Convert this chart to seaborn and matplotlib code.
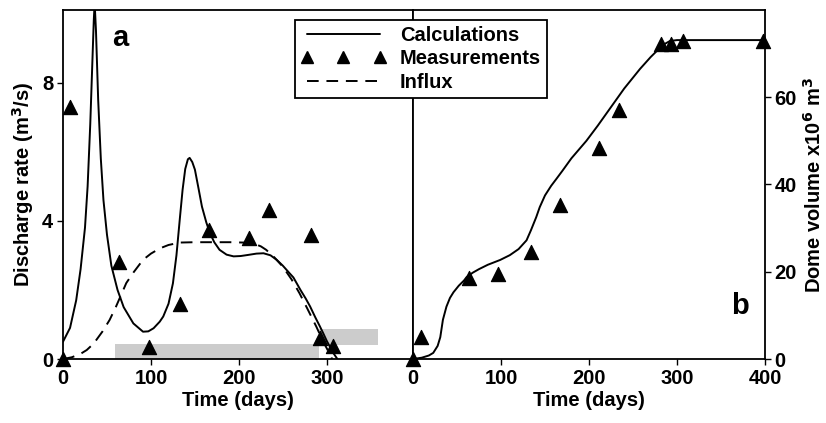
import numpy as np
import pandas as pd
import seaborn as sns
import matplotlib.pyplot as plt
from matplotlib.lines import Line2D

# measurement days (same for both panels)
meas_days = [0, 8, 64, 98, 133, 166, 211, 234, 282, 292, 307]
meas_rate = [0.0, 7.3, 2.8, 0.36, 1.6, 3.74, 3.5, 4.32, 3.6, 0.6, 0.37]

vol_days = [0, 9, 64, 97, 134, 167, 211, 234, 282, 293, 307, 398]
vol_meas = [0.0, 5.0, 18.5, 19.5, 24.5, 35.2, 48.3, 57.0, 72.3, 72.3, 73.0, 73.0]

# calculated discharge rate (panel a)
calc_t = [0, 8, 15, 20, 25, 28, 31, 33, 35, 36, 37.5, 40, 43, 46, 50, 55, 62, 69,
          80, 91, 97, 103, 110, 114, 120, 125, 129, 133, 136, 139, 142, 144, 147,
          150, 154, 158, 163, 167, 172, 178, 186, 194, 202, 210, 220, 228, 236,
          243, 250, 257, 262, 270, 276, 281, 287, 292, 296, 300, 304, 308, 312]
calc_q = [0.5, 0.9, 1.7, 2.6, 3.8, 5.0, 6.8, 8.3, 9.8, 10.3, 9.5, 7.5, 5.8, 4.6,
          3.6, 2.7, 2.0, 1.5, 1.03, 0.79, 0.8, 0.89, 1.08, 1.23, 1.6, 2.19, 3.0,
          4.1, 4.9, 5.5, 5.78, 5.82, 5.7, 5.48, 4.95, 4.41, 3.95, 3.65, 3.38, 3.16,
          3.02, 2.97, 2.98, 3.01, 3.05, 3.06, 3.0, 2.87, 2.7, 2.5, 2.36, 2.0, 1.75,
          1.52, 1.2, 0.95, 0.74, 0.52, 0.33, 0.15, 0.0]

# influx (panel a)
influx_t = [0, 10, 20, 27, 35, 45, 53, 60, 66, 72, 80, 91, 100, 110, 120, 133, 150,
            170, 190, 205, 216, 225, 231, 240, 250, 260, 269, 278, 288, 296, 303, 306]
influx_q = [0.0, 0.05, 0.15, 0.26, 0.45, 0.8, 1.13, 1.5, 1.85, 2.2, 2.5, 2.87, 3.05,
            3.2, 3.3, 3.37, 3.38, 3.38, 3.38, 3.37, 3.35, 3.26, 3.16, 2.95, 2.67,
            2.3, 1.9, 1.45, 0.94, 0.5, 0.16, 0.0]

# calculated dome volume (panel b)
vol_t = [0, 10, 18, 23, 28, 31, 34, 38, 42, 46, 52, 58, 61, 68, 75, 85, 99, 110,
         120, 129, 134, 140, 144, 150, 157, 163, 170, 180, 197, 210, 228, 240, 258,
         270, 280, 285, 292, 300, 400]
vol_v = [0.0, 0.3, 0.8, 1.4, 3.0, 5.0, 9.0, 12.0, 14.0, 15.3, 16.8, 18.0, 18.8, 19.8,
         20.6, 21.6, 22.7, 23.8, 25.2, 27.2, 29.5, 32.5, 34.8, 37.5, 39.7, 41.3,
         43.2, 46.0, 50.0, 53.5, 58.6, 62.0, 66.5, 69.2, 71.2, 72.1, 72.9, 73.1, 73.1]

# grey bars: start day, end day, bottom, top
bar_start = [59, 291]
bar_end = [291, 358]
bar_low = [0.0, 0.4]
bar_high = [0.44, 0.87]

sns.set_style("ticks")
plt.rcParams["font.family"] = ["Liberation Sans", "DejaVu Sans"]
plt.rcParams["font.weight"] = "bold"
plt.rcParams["axes.labelweight"] = "bold"
plt.rcParams["text.color"] = "black"
plt.rcParams["axes.labelcolor"] = "black"
fs = 14.5

fig = plt.figure(figsize=(8.26, 4.23), dpi=100)
ax1 = fig.add_axes([63 / 826, 1 - 359 / 423, 350 / 826, 349 / 423])
ax2 = fig.add_axes([413 / 826, 1 - 359 / 423, 352 / 826, 349 / 423])

for s, e, lo, hi in zip(bar_start, bar_end, bar_low, bar_high):
    ax1.fill_between([s, e], lo, hi, color="#cccccc", lw=0, zorder=1)

sns.lineplot(x=calc_t, y=calc_q, ax=ax1, color="black", lw=1.4, sort=False,
             estimator=None, zorder=3)
sns.lineplot(x=influx_t, y=influx_q, ax=ax1, color="black", lw=1.4, sort=False,
             estimator=None, zorder=3, dashes=False, linestyle=(0, (6, 4)))
sns.scatterplot(x=meas_days, y=meas_rate, ax=ax1, marker="^", color="black",
                s=105, edgecolor="black", zorder=4, clip_on=False)

sns.lineplot(x=vol_t, y=vol_v, ax=ax2, color="black", lw=1.4, sort=False,
             estimator=None, zorder=3)
sns.scatterplot(x=vol_days, y=vol_meas, ax=ax2, marker="^", color="black",
                s=105, edgecolor="black", zorder=4, clip_on=False)

ax1.set_xlim(0, 398)
ax1.set_ylim(0, 10.1)
ax1.set_xticks([0, 100, 200, 300])
ax1.set_yticks([0, 4, 8])
ax1.set_xlabel("Time (days)", fontsize=fs, labelpad=2)
ax1.set_ylabel("Discharge rate (m$^\\mathbf{3}$/s)", fontsize=fs, labelpad=4)
ax1.text(56, 9.7, "a", fontsize=21, fontweight="bold", va="top", ha="left",
         color="black")

ax2.set_xlim(0, 400)
ax2.set_ylim(0, 80)
ax2.set_xticks([0, 100, 200, 300, 400])
ax2.set_yticks([0, 20, 40, 60])
ax2.yaxis.tick_right()
ax2.yaxis.set_label_position("right")
ax2.set_xlabel("Time (days)", fontsize=fs, labelpad=2)
ax2.set_ylabel("Dome volume x10$^\\mathbf{6}$ m$^\\mathbf{3}$", fontsize=fs,
               labelpad=4, rotation=90)
ax2.text(362, 9, "b", fontsize=21, fontweight="bold", va="bottom", ha="left",
         color="black")

for ax in (ax1, ax2):
    for sp in ax.spines.values():
        sp.set_visible(True)
        sp.set_color("black")
        sp.set_linewidth(1.3)
    ax.tick_params(direction="out", length=4, width=1, labelsize=fs, pad=3,
                   colors="black")

handles = [Line2D([], [], color="black", lw=1.4),
           Line2D([], [], color="black", marker="^", ls="none", markersize=8),
           Line2D([], [], color="black", lw=1.4, linestyle=(0, (6, 4)))]
labels = ["Calculations", "Measurements", "Influx"]
leg = fig.legend(handles, labels, loc="upper left", bbox_to_anchor=(295 / 826, 1 - 20 / 423),
                 borderaxespad=0, frameon=True, fancybox=False, framealpha=1,
                 edgecolor="black", fontsize=fs, numpoints=3, handlelength=4.2,
                 labelspacing=0.22, borderpad=0.3, handletextpad=0.7)
leg.get_frame().set_linewidth(1.3)
for t in leg.get_texts():
    t.set_fontweight("bold")
    t.set_color("black")

fig.savefig("out.png", dpi=100)
